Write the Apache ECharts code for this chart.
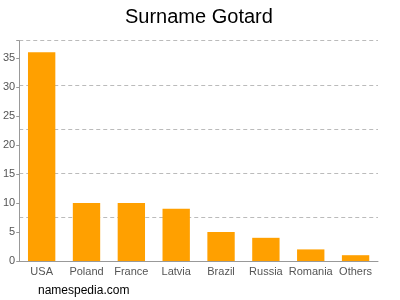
<!DOCTYPE html>
<html><head><meta charset="utf-8">
<script src="https://cdn.jsdelivr.net/npm/echarts@6/dist/echarts.min.js"></script>
<style>html,body{margin:0;padding:0;background:#fff}#c{width:400px;height:300px}</style>
</head><body><div id="c"></div>
<script>
const categories = ["USA","Poland","France","Latvia","Brazil","Russia","Romania","Others"];
const counts = [36,10,10,9,5,4,2,1];
const yTicks = [0,5,10,15,20,25,30,35];

const chart = echarts.init(document.getElementById('c'), null, {renderer:'canvas'});
chart.setOption({
  animation:false,
  backgroundColor:'#fff',
  title:{text:'Surname Gotard',left:120,top:2,textStyle:{fontFamily:'Liberation Sans, Arial, sans-serif',fontSize:20,fontWeight:'normal',color:'#000'}},
  graphic:[{type:'text',left:38,top:285,style:{text:'namespedia.com',fontFamily:'Liberation Sans, Arial, sans-serif',fontSize:12,fill:'#000'}}],
  grid:{left:17.5,right:22,top:40.7,bottom:39,containLabel:false},
  xAxis:{type:'category',data:categories,
    axisLine:{lineStyle:{color:'#999'}},axisTick:{show:false},
    axisLabel:{color:'#555',fontSize:11,fontFamily:'Liberation Sans, Arial, sans-serif',margin:5,interval:0}},
  yAxis:[{type:'value',min:0,max:38,interval:5,
    axisLine:{show:true,lineStyle:{color:'#999'}},axisTick:{show:true,length:3,lineStyle:{color:'#999'}},
    splitLine:{show:false},
    axisLabel:{color:'#555',fontSize:11,fontFamily:'Liberation Sans, Arial, sans-serif',margin:4,
      formatter:function(v){return yTicks.indexOf(v)>=0?String(v):'';}}},
   {type:'value',min:0,max:38,interval:7.6,position:'left',
    axisLine:{show:false},axisTick:{show:false},axisLabel:{show:false},
    splitLine:{show:true,lineStyle:{color:'#bbb',type:[4,3],width:1}}}],
  series:[{type:'bar',data:counts,yAxisIndex:0,barWidth:'61%',itemStyle:{color:'#ffa000'}}]
});
</script></body></html>
